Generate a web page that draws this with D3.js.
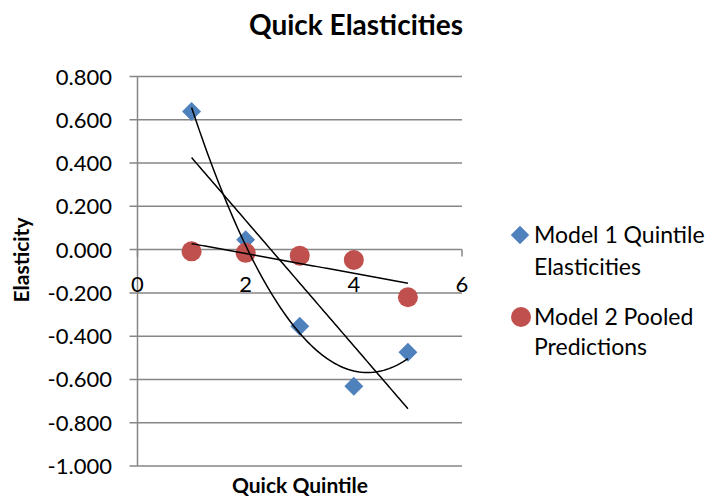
<!DOCTYPE html>
<html>
<head>
<meta charset="utf-8">
<script src="https://cdn.jsdelivr.net/npm/d3@7"></script>
<style>
  body { margin: 0; background: #fff; }
  svg { font-family: Lato, "Open Sans", sans-serif; }
</style>
</head>
<body>
<div id="chart"></div>
<script>
// dados
var quintis = [1, 2, 3, 4, 5];
var modelo1 = [0.638, 0.046, -0.354, -0.631, -0.474];
var modelo2 = [-0.008, -0.015, -0.028, -0.048, -0.22];
var yTicks = [0.8, 0.6, 0.4, 0.2, 0, -0.2, -0.4, -0.6, -0.8, -1.0];
var xTicks = [0, 2, 4, 6];
var linhasLeg = [["Model 1 Quintile", "Elasticities"], ["Model 2 Pooled", "Predictions"]];

var width = 719, height = 499;
var svg = d3.select("#chart").append("svg")
    .attr("width", width)
    .attr("height", height);

var x = d3.scaleLinear().domain([0, 6]).range([137.5, 462]);
var y = d3.scaleLinear().domain([-1, 0.8]).range([466, 76.5]);

var cinza = "#868686";

// grade horizontal
svg.append("g").selectAll("line").data(yTicks).enter().append("line")
    .attr("x1", x(0) - 8).attr("x2", x(6))
    .attr("y1", d => y(d)).attr("y2", d => y(d))
    .attr("stroke", cinza).attr("stroke-width", 1.5);

// eixo y
svg.append("line")
    .attr("x1", x(0)).attr("x2", x(0))
    .attr("y1", y(0.8)).attr("y2", y(-1))
    .attr("stroke", cinza).attr("stroke-width", 1.5);

svg.append("g").selectAll("text").data(yTicks).enter().append("text")
    .attr("x", 112).attr("y", d => y(d) + 8)
    .attr("text-anchor", "end")
    .attr("font-size", 22)
    .text(d => d3.format(".3f")(d).replace("−", "-"));

// eixo x no zero
svg.append("g").selectAll("line").data(xTicks).enter().append("line")
    .attr("x1", d => x(d)).attr("x2", d => x(d))
    .attr("y1", y(0)).attr("y2", y(0) + 7)
    .attr("stroke", cinza).attr("stroke-width", 1.5);

svg.append("g").selectAll("text").data(xTicks).enter().append("text")
    .attr("x", d => x(d)).attr("y", y(0) + 42)
    .attr("text-anchor", "middle")
    .attr("font-size", 22)
    .text(d => d);

// linhas de tendencia
function linear(xs, ys) {
    var mx = d3.mean(xs), my = d3.mean(ys);
    var b = d3.sum(xs, (v, i) => (v - mx) * (ys[i] - my)) / d3.sum(xs, v => (v - mx) * (v - mx));
    return v => my + b * (v - mx);
}
function quadratica(xs, ys) {
    // minimos quadrados, grau 2
    var s = [0, 0, 0, 0, 0], t = [0, 0, 0];
    xs.forEach((v, i) => {
        for (var k = 0; k < 5; k++) s[k] += Math.pow(v, k);
        for (var k = 0; k < 3; k++) t[k] += ys[i] * Math.pow(v, k);
    });
    var A = [[s[0], s[1], s[2], t[0]], [s[1], s[2], s[3], t[1]], [s[2], s[3], s[4], t[2]]];
    for (var i = 0; i < 3; i++) {
        for (var j = i + 1; j < 3; j++) {
            var f = A[j][i] / A[i][i];
            for (var k = i; k < 4; k++) A[j][k] -= f * A[i][k];
        }
    }
    var c = [0, 0, 0];
    for (var i = 2; i >= 0; i--) {
        var soma = A[i][3];
        for (var k = i + 1; k < 3; k++) soma -= A[i][k] * c[k];
        c[i] = soma / A[i][i];
    }
    return v => c[0] + c[1] * v + c[2] * v * v;
}

var linha = d3.line().x(d => x(d[0])).y(d => y(d[1]));
var amostra = d3.range(1, 5.001, 0.05);
var f1 = linear(quintis, modelo1), f2 = quadratica(quintis, modelo1), f3 = linear(quintis, modelo2);

// pontos
var losango = d3.symbol().type(d3.symbolSquare).size(180);
svg.append("g").selectAll("path").data(quintis).enter().append("path")
    .attr("d", losango)
    .attr("transform", (d, i) => "translate(" + x(d) + "," + y(modelo1[i]) + ") rotate(45)")
    .attr("fill", "#4f81bd");

svg.append("g").selectAll("circle").data(quintis).enter().append("circle")
    .attr("cx", d => x(d)).attr("cy", (d, i) => y(modelo2[i]))
    .attr("r", 10)
    .attr("fill", "#c0504d");

var tendencias = svg.append("g").attr("fill", "none").attr("stroke", "#000").attr("stroke-width", 1.5);
[f1, f2, f3].forEach(f => {
    tendencias.append("path").attr("d", linha(amostra.map(v => [v, f(v)])));
});

// titulos
svg.append("text").attr("x", 356).attr("y", 35)
    .attr("text-anchor", "middle").attr("font-size", 28).attr("font-weight", "bold")
    .text("Quick Elasticities");
svg.append("text").attr("x", 300).attr("y", 493)
    .attr("text-anchor", "middle").attr("font-size", 21).attr("font-weight", "bold")
    .text("Quick Quintile");
svg.append("text").attr("transform", "translate(29,260) rotate(-90)")
    .attr("text-anchor", "middle").attr("font-size", 21).attr("font-weight", "bold")
    .text("Elasticity");

// legenda
var leg = svg.append("g");
leg.append("path")
    .attr("d", d3.symbol().type(d3.symbolSquare).size(170))
    .attr("transform", "translate(520,235) rotate(45)")
    .attr("fill", "#4f81bd");
leg.append("circle").attr("cx", 521).attr("cy", 317).attr("r", 10).attr("fill", "#c0504d");
var baseLeg = [[243, 275], [325, 355]];
linhasLeg.forEach((ls, i) => {
    ls.forEach((t, j) => {
        leg.append("text").attr("x", 534).attr("y", baseLeg[i][j])
            .attr("font-size", 23).text(t);
    });
});
</script>
</body>
</html>
